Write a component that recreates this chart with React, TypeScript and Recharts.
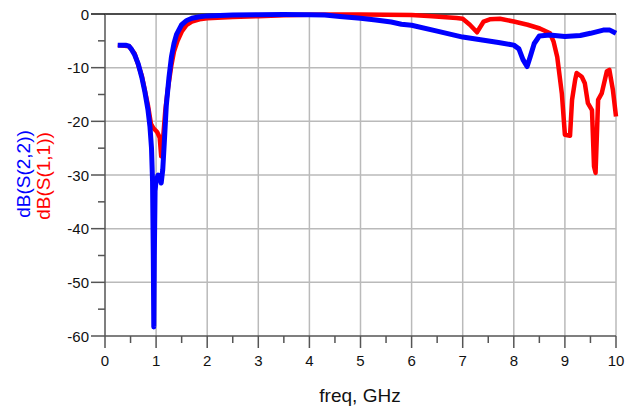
import React from 'react';
import { LineChart, Line, XAxis, YAxis, ReferenceLine } from 'recharts';

// S(2,2) trace
const s22Freq = [0.25, 0.3, 0.4, 0.47, 0.52, 0.58, 0.65, 0.72, 0.78, 0.84, 0.88, 0.91, 0.93, 0.945, 0.955, 0.965, 0.98, 1.0, 1.04, 1.07, 1.1, 1.13, 1.16, 1.2, 1.25, 1.3, 1.35, 1.4, 1.5, 1.6, 1.7, 1.85, 2.0, 2.5, 3.0, 3.5, 4.0, 4.3, 4.6, 5.0, 5.3, 5.6, 5.8, 6.0, 6.5, 7.0, 7.35, 7.7, 8.0, 8.1, 8.18, 8.26, 8.32, 8.4, 8.5, 8.7, 9.0, 9.3, 9.5, 9.75, 9.88, 10.0];
const s22Db = [-5.8, -5.8, -5.8, -6.0, -6.6, -7.6, -9.3, -11.8, -14.5, -17.8, -21, -25, -31, -45, -58.3, -45, -33, -31, -30, -30.5, -31.5, -29, -24, -17, -12, -8, -5.5, -3.8, -2.0, -1.2, -0.8, -0.5, -0.35, -0.2, -0.15, -0.1, -0.15, -0.2, -0.45, -0.8, -1.1, -1.5, -1.9, -2.1, -3.2, -4.3, -4.8, -5.3, -5.8, -6.5, -8.5, -9.8, -8.0, -5.5, -4.1, -3.9, -4.2, -4.0, -3.6, -3.0, -3.0, -3.6];

// S(1,1) trace
const s11Freq = [0.25, 0.47, 0.58, 0.72, 0.84, 0.9, 0.95, 1.02, 1.07, 1.1, 1.13, 1.18, 1.23, 1.3, 1.35, 1.42, 1.5, 1.6, 1.7, 1.85, 2.0, 2.5, 3.0, 3.5, 4.0, 4.5, 5.0, 5.5, 6.0, 6.4, 6.88, 7.0, 7.14, 7.28, 7.41, 7.53, 7.73, 8.0, 8.27, 8.51, 8.71, 8.78, 8.85, 8.94, 9.0, 9.1, 9.14, 9.2, 9.23, 9.33, 9.39, 9.45, 9.53, 9.57, 9.6, 9.65, 9.72, 9.82, 9.87, 9.94, 10.0];
const s11Db = [-5.8, -6.0, -7.4, -11.5, -17, -20.5, -21.3, -22, -23, -26.5, -24, -18, -14, -9.5, -7, -5, -3.3, -2.0, -1.4, -1.0, -0.8, -0.55, -0.4, -0.25, -0.15, -0.1, -0.1, -0.15, -0.2, -0.4, -0.75, -0.9, -2.0, -3.4, -1.4, -1.0, -0.9, -1.4, -2.0, -2.7, -3.6, -5.2, -8.0, -14.8, -22.5, -22.7, -16, -12.3, -11.0, -11.7, -12.9, -16.6, -17.9, -28.4, -29.6, -16, -14.8, -10.7, -10.4, -14.2, -19.1];

const freqTicks = [0, 0.5, 1, 1.5, 2, 2.5, 3, 3.5, 4, 4.5, 5, 5.5, 6, 6.5, 7, 7.5, 8, 8.5, 9, 9.5, 10];
const dbTicks = [-60, -55, -50, -45, -40, -35, -30, -25, -20, -15, -10, -5, 0];
const freqGrid = [1, 2, 3, 4, 5, 6, 7, 8, 9, 10];
const dbGrid = [-50, -40, -30, -20, -10];

const s22Data = s22Freq.map((f, i) => ({ freq: f, db: s22Db[i] }));
const s11Data = s11Freq.map((f, i) => ({ freq: f, db: s11Db[i] }));

const font = '"Liberation Sans", Arial, sans-serif';
const axisColor = '#555';
const gridColor = '#bababa';

const FreqTick = ({ x, y, payload }: any) => {
  const major = payload.value % 1 === 0;
  return (
    <g>
      <line x1={x} y1={y} x2={x} y2={y + (major ? 12 : 7)} stroke={axisColor} strokeWidth={1.5} />
      {major && (
        <text x={x} y={y + 30} textAnchor="middle" fontSize={15} fill="#111" fontFamily={font}>
          {payload.value}
        </text>
      )}
    </g>
  );
};

const DbTick = ({ x, y, payload }: any) => {
  const major = payload.value % 10 === 0;
  return (
    <g>
      <line x1={x} y1={y} x2={x - (major ? 14 : 7)} y2={y} stroke={payload.value === 0 ? '#111' : axisColor} strokeWidth={1.5} />
      {major && (
        <text x={x - 16} y={y + 5.5} textAnchor="end" fontSize={15} fill="#111" fontFamily={font}>
          {payload.value}
        </text>
      )}
    </g>
  );
};

export default function App() {
  return (
    <div style={{ position: 'absolute', left: 0, top: 0, width: 634, height: 414, background: '#fff' }}>
      <LineChart width={634} height={414} margin={{ top: 14, right: 18, bottom: 0, left: 0 }}>
        <XAxis
          dataKey="freq"
          type="number"
          domain={[0, 10]}
          ticks={freqTicks}
          interval={0}
          height={78}
          tickSize={0}
          tickMargin={0}
          tick={<FreqTick />}
          axisLine={{ stroke: axisColor, strokeWidth: 1.5 }}
        />
        <YAxis
          type="number"
          domain={[-60, 0]}
          ticks={dbTicks}
          interval={0}
          width={105}
          tickSize={0}
          tickMargin={0}
          tick={<DbTick />}
          axisLine={{ stroke: axisColor, strokeWidth: 1.5 }}
        />
        {freqGrid.map((f) => (
          <ReferenceLine key={'vx' + f} x={f} stroke={gridColor} strokeWidth={1.5} strokeOpacity={1} />
        ))}
        {dbGrid.map((d) => (
          <ReferenceLine key={'hy' + d} y={d} stroke={gridColor} strokeWidth={1.5} strokeOpacity={1} />
        ))}
        <ReferenceLine y={0} stroke="#111" strokeWidth={1.5} />
        <Line
          data={s11Data}
          dataKey="db"
          type="linear"
          stroke="#ff0000"
          strokeWidth={4.5}
          strokeLinejoin="round"
          dot={false}
          isAnimationActive={false}
        />
        <Line
          data={s22Data}
          dataKey="db"
          type="linear"
          stroke="#0000ff"
          strokeWidth={5}
          strokeLinejoin="round"
          dot={false}
          isAnimationActive={false}
        />
      </LineChart>
      <svg width={634} height={414} style={{ position: 'absolute', left: 0, top: 0, pointerEvents: 'none' }}>
        <text
          transform="translate(23,174) rotate(-90)"
          textAnchor="middle"
          dominantBaseline="central"
          fontSize={19}
          fill="#0000ff"
          fontFamily={font}
        >
          dB(S(2,2))
        </text>
        <text
          transform="translate(43,176) rotate(-90)"
          textAnchor="middle"
          dominantBaseline="central"
          fontSize={19}
          fill="#ff0000"
          fontFamily={font}
        >
          dB(S(1,1))
        </text>
        <text x={360} y={402} textAnchor="middle" fontSize={19} fill="#111" fontFamily={font}>
          freq, GHz
        </text>
      </svg>
    </div>
  );
}
